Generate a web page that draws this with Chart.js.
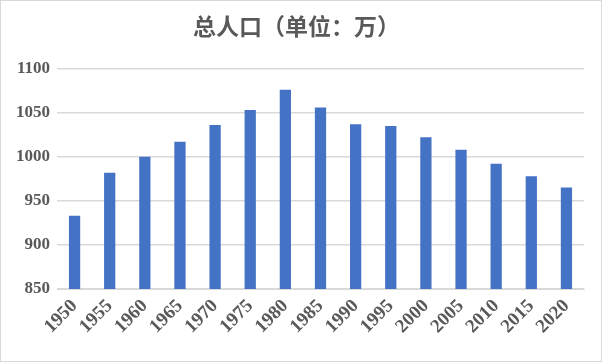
<!DOCTYPE html>
<html>
<head>
<meta charset="utf-8">
<script src="https://cdn.jsdelivr.net/npm/chart.js@4/dist/chart.umd.min.js"></script>
<style>
html,body{margin:0;padding:0;background:#fff;}
#wrap{position:absolute;left:0;top:0;width:600px;height:360px;border:1px solid #d9d9d9;}
canvas{display:block;}
</style>
</head>
<body>
<div id="wrap"><canvas id="c" width="600" height="360"></canvas></div>
<script>
const categories = ["1950","1955","1960","1965","1970","1975","1980","1985","1990","1995","2000","2005","2010","2015","2020"];
const population = [933, 982, 1000, 1017, 1036, 1053, 1076, 1056, 1037, 1035, 1022, 1008, 992, 978, 965];
const chartTitle = "总人口（单位：万）";
const yMin = 850, yMax = 1100, yStep = 50;

new Chart(document.getElementById('c'), {
  type: 'bar',
  data: {
    labels: categories,
    datasets: [{
      data: population,
      backgroundColor: '#4472C4',
      barPercentage: 0.64,
      categoryPercentage: 0.5
    }]
  },
  options: {
    responsive: false,
    animation: false,
    layout: { padding: { left: 8, right: 17, top: 6, bottom: 17 } },
    plugins: {
      legend: { display: false },
      tooltip: { enabled: false },
      title: {
        display: true,
        text: chartTitle,
        color: '#595959',
        font: { family: '"Noto Sans CJK SC"', size: 23, weight: 'bold' },
        padding: { top: 5, bottom: 29 }
      }
    },
    scales: {
      x: {
        grid: { display: false, drawTicks: false },
        border: { color: '#d9d9d9' },
        ticks: {
          color: '#595959',
          autoSkip: false,
          minRotation: 45, maxRotation: 45,
          padding: 6,
          font: { family: '"Liberation Serif"', size: 19, weight: 'bold' }
        }
      },
      y: {
        min: yMin, max: yMax,
        grid: { color: '#d9d9d9', lineWidth: 1.5, drawTicks: false },
        border: { display: false },
        ticks: {
          stepSize: yStep,
          color: '#595959',
          padding: 7,
          callback: v => String(v),
          font: { family: '"Liberation Serif"', size: 17, weight: 'bold' }
        }
      }
    }
  }
});
</script>
</body>
</html>
